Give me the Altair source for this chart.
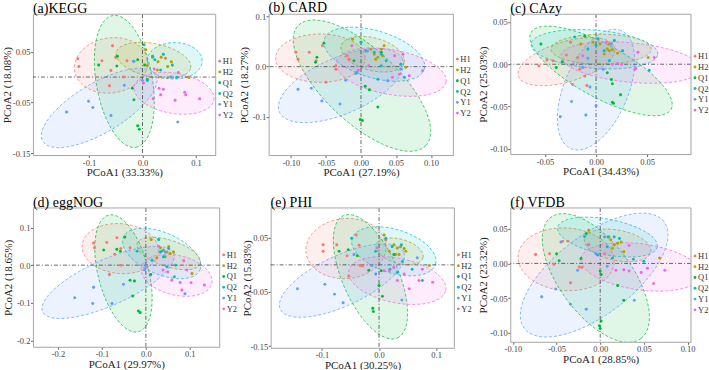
import altair as alt
import numpy as np
import pandas as pd

SERIF = "Liberation Serif"
groups = ["H1", "H2", "Q1", "Q2", "Y1", "Y2"]
colors = ["#F8766D", "#B79F00", "#00BA38", "#00BFC4", "#619CFF", "#F564E3"]

# ---------------- (a) KEGG ----------------
kegg_pts = {
    "H1": [(-0.121, 0.036), (-0.119, 0.021), (-0.076, 0.032), (-0.056, 0.062), (-0.059, 0.013),
           (-0.050, 0.039), (-0.029, 0.032), (-0.035, 0.000), (-0.062, -0.017)],
    "H2": [(0.006, 0.054), (0.009, 0.023), (0.019, 0.039), (0.029, 0.030), (0.035, 0.039),
           (0.043, 0.037), (0.054, 0.030), (0.047, 0.021), (0.028, 0.014), (0.087, -0.001)],
    "Q1": [(-0.082, 0.024), (-0.047, 0.041), (-0.048, 0.022), (-0.009, 0.034), (-0.019, -0.022),
           (-0.016, -0.045), (-0.009, -0.096), (-0.006, -0.103), (0.009, -0.005), (0.004, 0.024)],
    "Q2": [(0.019, 0.041), (0.039, 0.045), (0.034, 0.014), (0.056, 0.024), (0.064, -0.001),
           (0.009, -0.007), (0.003, 0.064), (-0.016, 0.031), (0.023, 0.034)],
    "Y1": [(-0.142, -0.069), (-0.101, -0.048), (-0.093, -0.060), (-0.059, -0.076), (-0.034, -0.016),
           (0.000, -0.007), (0.066, -0.089), (0.054, 0.000), (-0.017, 0.031)],
    "Y2": [(0.022, 0.016), (0.031, -0.022), (0.039, -0.024), (0.034, -0.035), (0.020, -0.043),
           (0.067, 0.009), (0.079, -0.030), (0.081, -0.035), (0.107, -0.043), (0.061, -0.046),
           (0.002, -0.012)],
}
# ellipse: centre x, centre y, major half-axis dx, dy, minor/major ratio
kegg_ell = {
    "H1": (-0.059, 0.023, 0.068, 0.011, 0.75),
    "H2": (0.0205, 0.033, 0.0696, -0.0151, 0.44),
    "Q1": (-0.034, -0.0086, 0.0217, -0.130, 0.42),
    "Q2": (0.060, 0.032, 0.0516, 0.0, 0.66),
    "Y1": (-0.081, -0.061, 0.1056, 0.0658, 0.38),
    "Y2": (0.059, -0.032, 0.0745, -0.0132, 0.5),
}

# ---------------- (b) CARD ----------------
card_pts = {
    "H1": [(-0.093, 0.029), (-0.090, 0.015), (-0.074, 0.029), (-0.055, 0.042), (-0.064, 0.012),
           (-0.036, 0.002), (-0.036, -0.005), (-0.050, -0.031), (-0.020, 0.022), (-0.017, 0.015)],
    "H2": [(-0.012, 0.055), (0.014, 0.035), (0.019, 0.025), (0.024, 0.019), (0.029, 0.035),
           (0.031, 0.022), (0.033, 0.042), (0.021, 0.015), (0.064, -0.001)],
    "Q1": [(-0.053, 0.047), (-0.063, 0.019), (-0.065, 0.009), (-0.010, 0.012), (0.006, -0.039),
           (0.012, -0.046), (0.024, -0.081), (-0.001, -0.106), (0.002, -0.108), (0.029, 0.029)],
    "Q2": [(0.000, 0.049), (0.007, 0.032), (0.019, 0.029), (0.029, 0.025), (0.036, 0.012),
           (0.029, 0.002), (0.062, -0.021), (0.057, 0.005), (-0.007, -0.013), (0.024, -0.025)],
    "Y1": [(-0.090, -0.045), (-0.071, -0.043), (-0.056, -0.069), (-0.030, -0.075), (-0.022, -0.027),
           (-0.006, -0.011), (0.038, -0.028), (0.057, -0.005), (0.009, 0.031)],
    "Y2": [(-0.013, 0.042), (-0.004, -0.007), (0.011, 0.002), (0.045, -0.021), (0.055, -0.015),
           (0.069, -0.018), (0.088, -0.008), (0.060, 0.025), (0.048, 0.022)],
}
card_ell = {
    "H1": (-0.058, 0.017, 0.064, 0.0, 0.54),
    "H2": (0.0167, 0.025, 0.045, -0.0167, 0.5),
    "Q1": (0.0014, -0.038, 0.0914, -0.12, 0.42),
    "Q2": (0.019, 0.025, 0.0714, -0.030, 0.45),
    "Y1": (-0.0286, -0.038, 0.088, 0.053, 0.42),
    "Y2": (0.043, -0.011, 0.0786, -0.02, 0.4),
}

# ---------------- (c) CAzy ----------------
cazy_pts = {
    "H1": [(-0.056, -0.002), (-0.048, 0.005), (-0.042, 0.004), (-0.029, 0.011), (-0.025, 0.026),
           (-0.018, 0.008), (-0.016, -0.006), (-0.023, -0.024), (-0.011, -0.014), (-0.009, -0.025)],
    "H2": [(-0.015, 0.024), (-0.003, 0.026), (0.004, 0.024), (0.011, 0.018), (0.013, 0.016),
           (0.016, 0.017), (0.013, 0.024), (0.021, 0.013), (0.051, 0.008), (0.008, 0.012)],
    "Q1": [(-0.054, 0.024), (-0.039, -0.004), (-0.033, 0.003), (-0.011, 0.033), (0.011, -0.010),
           (0.015, -0.018), (0.016, -0.023), (0.017, -0.046), (0.024, -0.036), (0.016, -0.045)],
    "Q2": [(-0.021, 0.032), (-0.008, 0.018), (0.000, 0.022), (0.008, 0.016), (0.018, 0.028),
           (0.026, 0.016), (0.052, -0.007), (0.013, 0.004), (0.002, 0.030)],
    "Y1": [(-0.008, 0.007), (-0.006, -0.027), (-0.024, -0.044), (-0.035, -0.062), (-0.010, -0.060),
           (0.000, -0.049), (0.007, -0.006), (0.015, 0.024), (-0.013, -0.004)],
    "Y2": [(-0.013, 0.010), (0.016, 0.000), (0.021, 0.001), (0.039, -0.005), (0.041, 0.014),
           (0.057, 0.008), (0.010, 0.026), (0.025, 0.000), (0.038, -0.006)],
}
cazy_ell = {
    "H1": (-0.029, 0.003, 0.047, 0.017, 0.4),
    "H2": (0.005, 0.0177, 0.049, 0.0, 0.3),
    "Q1": (0.0049, -0.0079, 0.0686, -0.0453, 0.33),
    "Q2": (-0.0016, 0.0177, 0.062, -0.006, 0.3),
    "Y1": (0.0, -0.030, 0.0245, 0.0697, 0.5),
    "Y2": (0.034, 0.002, 0.0686, -0.008, 0.28),
}

# ---------------- (d) eggNOG ----------------
egg_pts = {
    "H1": [(-0.119, 0.059), (-0.117, 0.046), (-0.089, 0.060), (-0.066, 0.073), (-0.057, 0.044),
           (-0.036, 0.046), (-0.071, 0.029), (-0.056, 0.000), (-0.083, -0.025), (0.002, -0.003)],
    "H2": [(0.012, 0.068), (0.025, 0.019), (0.033, 0.046), (0.040, 0.040), (0.048, 0.035),
           (0.055, 0.031), (0.063, 0.035), (0.052, 0.049), (0.105, -0.022), (0.044, 0.022)],
    "Q1": [(-0.096, 0.040), (-0.066, 0.042), (-0.058, 0.037), (-0.048, 0.075), (-0.036, -0.040),
           (-0.026, -0.042), (-0.030, -0.082), (-0.017, -0.122), (-0.013, -0.126), (0.011, -0.025)],
    "Q2": [(-0.020, 0.037), (0.029, 0.068), (0.014, 0.013), (0.036, 0.037), (0.052, 0.044),
           (0.040, 0.022), (0.068, 0.000), (0.065, -0.031), (0.048, -0.004), (0.033, 0.035)],
    "Y1": [(-0.162, -0.087), (-0.119, -0.059), (-0.121, -0.102), (-0.077, -0.102), (-0.051, -0.051),
           (-0.003, -0.012), (0.000, -0.002), (0.044, 0.035), (0.089, -0.076)],
    "Y2": [(0.029, 0.050), (0.039, -0.013), (0.050, -0.018), (0.059, -0.040), (0.078, -0.046),
           (0.086, 0.012), (0.103, -0.047), (0.133, -0.053), (0.082, -0.066), (0.093, -0.013)],
}
egg_ell = {
    "H1": (-0.058, 0.044, 0.087, -0.009, 0.65),
    "H2": (0.052, 0.031, 0.072, -0.027, 0.4),
    "Q1": (-0.051, -0.022, 0.034, -0.155, 0.42),
    "Q2": (0.036, 0.031, 0.087, -0.044, 0.5),
    "Y1": (-0.086, -0.046, 0.149, 0.078, 0.32),
    "Y2": (0.070, -0.027, 0.080, -0.022, 0.55),
}

# ---------------- (e) PHI ----------------
phi_pts = {
    "H1": [(-0.098, 0.037), (-0.098, 0.025), (-0.074, 0.037), (-0.040, 0.055), (-0.056, 0.017),
           (-0.035, 0.036), (-0.033, -0.001), (-0.029, -0.002), (-0.053, -0.021), (0.012, 0.046)],
    "H2": [(0.009, 0.055), (0.018, 0.025), (0.026, 0.037), (0.032, 0.031), (0.038, 0.034),
           (0.044, 0.030), (0.047, 0.025), (0.029, 0.019), (0.088, -0.001), (0.035, 0.019)],
    "Q1": [(-0.070, 0.025), (-0.054, 0.028), (-0.038, 0.017), (0.004, -0.011), (0.000, -0.038),
           (0.006, -0.058), (-0.011, -0.080), (-0.010, -0.086), (0.026, 0.019), (-0.018, -0.010)],
    "Q2": [(-0.048, 0.049), (-0.006, 0.025), (0.012, 0.049), (0.023, 0.034), (0.039, 0.037),
           (0.041, 0.006), (0.058, -0.008), (0.076, -0.029), (0.032, -0.014), (0.019, -0.008)],
    "Y1": [(-0.143, -0.044), (-0.095, -0.036), (-0.078, -0.054), (-0.063, -0.070), (-0.044, 0.019),
           (-0.013, -0.001), (-0.006, -0.017), (0.040, -0.065), (0.067, 0.013)],
    "Y2": [(-0.003, 0.031), (0.009, -0.011), (0.018, -0.011), (0.032, -0.029), (0.044, -0.017),
           (0.053, -0.044), (0.070, -0.029), (0.094, -0.032), (0.076, -0.008), (0.026, -0.005)],
}
phi_ell = {
    "H1": (-0.058, 0.030, 0.070, 0.006, 0.75),
    "H2": (0.036, 0.025, 0.041, -0.012, 0.5),
    "Q1": (-0.015, -0.022, 0.047, -0.113, 0.42),
    "Q2": (0.026, 0.025, 0.073, -0.024, 0.5),
    "Y1": (-0.065, -0.029, 0.108, 0.053, 0.37),
    "Y2": (0.032, -0.029, 0.085, -0.018, 0.45),
}

# ---------------- (f) VFDB ----------------
vfdb_pts = {
    "H1": [(-0.074, 0.013), (-0.058, 0.014), (-0.043, 0.032), (-0.037, 0.032), (-0.024, -0.005),
           (-0.021, -0.006), (-0.034, -0.028), (-0.014, 0.027), (-0.053, -0.001)],
    "H2": [(-0.013, 0.048), (0.012, 0.034), (0.016, 0.027), (0.020, 0.029), (0.024, 0.031),
           (0.014, 0.022), (0.027, 0.017), (0.010, 0.038), (0.068, 0.008)],
    "Q1": [(-0.050, 0.014), (-0.047, 0.004), (-0.022, 0.007), (-0.016, 0.043), (0.000, -0.011),
           (0.001, -0.016), (0.020, -0.032), (0.027, -0.053), (-0.001, -0.090), (0.000, -0.094),
           (0.001, -0.083)],
    "Q2": [(-0.018, 0.039), (0.009, 0.038), (0.016, 0.038), (0.022, 0.036), (0.008, 0.024),
           (0.014, 0.008), (0.038, 0.006), (0.050, 0.003), (-0.003, 0.012)],
    "Y1": [(-0.067, -0.048), (-0.051, -0.037), (-0.034, -0.059), (-0.016, -0.066), (-0.026, -0.010),
           (-0.045, 0.031), (-0.005, 0.014), (0.008, -0.004), (0.039, -0.053), (0.005, 0.038)],
    "Y2": [(-0.013, 0.027), (0.005, 0.014), (0.027, -0.009), (0.033, -0.011), (0.047, -0.013),
           (0.054, -0.007), (0.061, -0.029), (0.074, -0.010), (0.033, 0.026), (0.018, -0.010)],
}
vfdb_ell = {
    "H1": (-0.039, 0.006, 0.055, -0.005, 0.65),
    "H2": (0.020, 0.026, 0.038, -0.0096, 0.45),
    "Q1": (-0.005, -0.021, 0.0515, -0.0875, 0.48),
    "Q2": (0.0084, 0.038, 0.057, -0.014, 0.35),
    "Y1": (-0.0069, -0.0168, 0.080, 0.077, 0.45),
    "Y2": (0.0466, -0.005, 0.0687, -0.012, 0.38),
}


def ellipse_df(ell, W, H, xd, yd, n=90):
    sx = W / (xd[1] - xd[0])
    sy = H / (yd[1] - yd[0])
    t = np.linspace(0, 2 * np.pi, n + 1)
    rows = []
    for g, (cx, cy, ux, uy, r) in ell.items():
        vx = -uy * sy * r / sx
        vy = ux * sx * r / sy
        xs = cx + np.cos(t) * ux + np.sin(t) * vx
        ys = cy + np.cos(t) * uy + np.sin(t) * vy
        for i, (a, b) in enumerate(zip(xs, ys)):
            rows.append({"x": float(a), "y": float(b), "eg": g, "i": i})
    return pd.DataFrame(rows)


def fmt_expr(f):
    return "replace(format(datum.value, '%s'), '\u2212', '-')" % f


def panel(title, pts, ell, xd, yd, xt, yt, xf, yf, xtitle, ytitle, W, H, ytx, legy):
    pdf = pd.DataFrame([{"x": x, "y": y, "grp": g} for g, L in pts.items() for (x, y) in L])
    edf = ellipse_df(ell, W, H, xd, yd)
    xs = alt.Scale(domain=xd, nice=False, zero=False)
    ys = alt.Scale(domain=yd, nice=False, zero=False)
    xax = alt.Axis(values=xt, labelExpr=fmt_expr(xf), title=xtitle, grid=False, titleY=11.5,
                   domain=True, domainColor="#a6a6a6", domainWidth=1)
    yax = alt.Axis(values=yt, labelExpr=fmt_expr(yf), title=ytitle, grid=False,
                   titleX=ytx, titleBaseline="bottom",
                   domain=True, domainColor="#a6a6a6", domainWidth=1)

    ells = alt.Chart(edf).mark_line(
        clip=True, strokeDash=[3, 2], strokeWidth=0.8, fillOpacity=0.12, strokeOpacity=0.9
    ).encode(
        x=alt.X("x:Q", scale=xs, axis=xax),
        y=alt.Y("y:Q", scale=ys, axis=yax),
        stroke=alt.Stroke("eg:N", scale=alt.Scale(domain=groups, range=colors), legend=None),
        fill=alt.Fill("eg:N", scale=alt.Scale(domain=groups, range=colors), legend=None),
        detail="eg:N",
        order="i:Q",
    )
    vline = alt.Chart(pd.DataFrame({"x": [0.0]})).mark_rule(
        color="#444444", strokeDash=[4, 2, 1, 2], strokeWidth=0.8
    ).encode(x=alt.X("x:Q", scale=xs))
    hline = alt.Chart(pd.DataFrame({"y": [0.0]})).mark_rule(
        color="#444444", strokeDash=[4, 2, 1, 2], strokeWidth=0.8
    ).encode(y=alt.Y("y:Q", scale=ys))
    dots = alt.Chart(pdf).mark_circle(size=9, opacity=1).encode(
        x=alt.X("x:Q", scale=xs),
        y=alt.Y("y:Q", scale=ys),
        color=alt.Color("grp:N", scale=alt.Scale(domain=groups, range=colors), legend=None),
    )
    # right and top border at the scale-domain edges
    vedge = alt.Chart(pd.DataFrame({"xe": [xd[1]]})).mark_rule(
        color="#a6a6a6", strokeWidth=1
    ).encode(x=alt.X("xe:Q", scale=xs))
    hedge = alt.Chart(pd.DataFrame({"ye": [yd[1]]})).mark_rule(
        color="#a6a6a6", strokeWidth=1
    ).encode(y=alt.Y("ye:Q", scale=ys))

    layers = [ells, vline, hline, dots, vedge, hedge]
    # legend (one key per group)
    for k, (g, c) in enumerate(zip(groups, colors)):
        gdf = pd.DataFrame({"grp": [g]})
        yy = legy + k * 10.8
        layers.append(alt.Chart(gdf).mark_circle(size=8, color=c, opacity=1).encode(
            x=alt.value(W + 4), y=alt.value(yy)))
        layers.append(alt.Chart(gdf).mark_text(
            align="left", baseline="middle", fontSize=8.5, font=SERIF, color="#333333"
        ).encode(x=alt.value(W + 7), y=alt.value(yy), text="grp:N"))

    return alt.layer(*layers).properties(
        width=W, height=H,
        title=alt.TitleParams(title, anchor="start", frame="group", fontSize=14, font=SERIF,
                              fontWeight="normal", offset=-2.5),
    )


pa = panel("(a)KEGG", kegg_pts, kegg_ell, [-0.205, 0.137], [-0.154, 0.124],
           [-0.1, 0.0, 0.1], [0.10, 0.05, 0.0, -0.05, -0.10, -0.15], ".1f", ".2f",
           "PCoA1 (33.33%)", "PCoA2 (18.08%)", 183, 141, -20, 47)
pb = panel("(b) CARD", card_pts, card_ell, [-0.132, 0.132], [-0.177, 0.105],
           [-0.10, -0.05, 0.0, 0.05, 0.10], [0.1, 0.0, -0.1], ".2f", ".1f",
           "PCoA1 (27.19%)", "PCoA2 (18.27%)", 185, 141, -19, 45)
pc = panel("(c) CAzy", cazy_pts, cazy_ell, [-0.084, 0.093], [-0.106, 0.059],
           [-0.05, 0.0, 0.05], [0.05, 0.0, -0.05, -0.10], ".2f", ".2f",
           "PCoA1 (34.43%)", "PCoA2 (25.03%)", 181, 140, -22, 42)
pd_ = panel("(d) eggNOG", egg_pts, egg_ell, [-0.257, 0.168], [-0.217, 0.152],
            [-0.2, -0.1, 0.0, 0.1], [0.1, 0.0, -0.1, -0.2], ".1f", ".1f",
            "PCoA1 (29.97%)", "PCoA2 (18.65%)", 187, 139, -19, 47)
pe = panel("(e) PHI", phi_pts, phi_ell, [-0.190, 0.132], [-0.153, 0.105],
           [-0.1, 0.0, 0.1], [0.10, 0.05, 0.0, -0.05, -0.10, -0.15], ".1f", ".2f",
           "PCoA1 (30.25%)", "PCoA2 (15.83%)", 184, 140, -18, 47)
pf = panel("(f) VFDB", vfdb_pts, vfdb_ell, [-0.103, 0.104], [-0.113, 0.080],
           [-0.10, -0.05, 0.0, 0.05, 0.10], [0.05, 0.0, -0.05, -0.10], ".2f", ".2f",
           "PCoA1 (28.85%)", "PCoA2 (23.32%)", 181, 134, -22, 48)

row1 = alt.hconcat(pa, pb, pc, spacing=5)
row2 = alt.hconcat(pd_, pe, pf, spacing=4)

chart = alt.vconcat(row1, row2, spacing=18).properties(
    padding={"left": 1, "top": 0, "right": 0, "bottom": 0}
).configure(font=SERIF).configure_view(
    strokeWidth=0
).configure_axis(
    labelFont=SERIF, titleFont=SERIF, labelFontSize=8.5, titleFontSize=11,
    titleFontWeight="normal", tickColor="#666666", tickSize=2.5,
    labelColor="#444444", titleColor="#222222", labelPadding=0.5, titlePadding=0,
)

chart.save("out.html", embed_options={"renderer": "svg", "actions": False})
